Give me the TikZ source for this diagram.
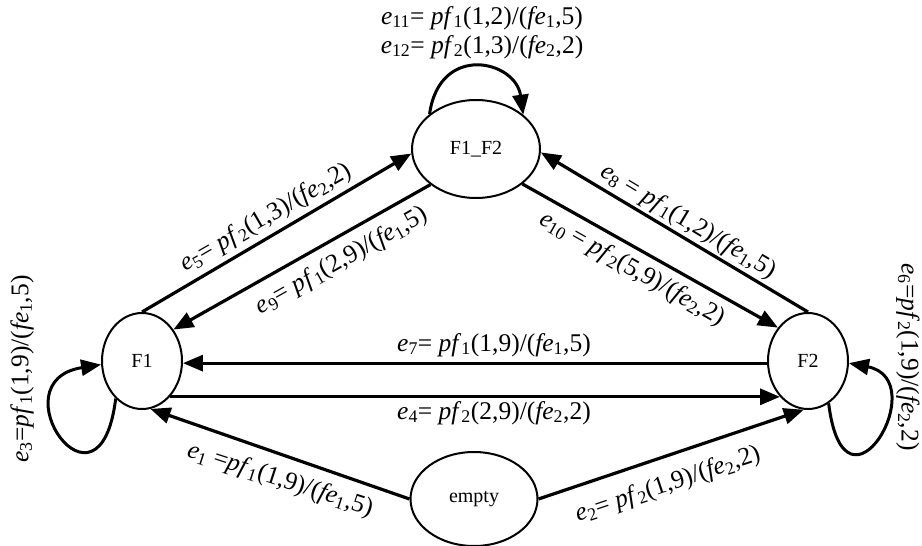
\documentclass[tikz,border=0pt]{standalone}
\usepackage{fontspec}
\setmainfont{Liberation Serif}
\usetikzlibrary{arrows.meta,shapes.geometric}
\newcommand{\sbs}[1]{\textsubscript{#1}}
\newcommand{\itx}[1]{\textit{#1}}
\begin{document}
\begin{tikzpicture}[x=1pt,y=-1pt,
  st/.style={ellipse,draw,line width=2pt,inner sep=0pt,font=\fontsize{20}{24}\selectfont},
  ed/.style={line width=3.2pt,-{Triangle[length=20pt,width=16pt]}},
  lp/.style={line width=3pt,-{Triangle[length=20pt,width=16pt]}},
  lbl/.style={font=\fontsize{25.5}{30}\selectfont,inner sep=0pt}]
\useasboundingbox (0,0) rectangle (922,546);
% states
\node[st,minimum width=128pt,minimum height=98pt] (F12) at (476,149) {F1\_F2};
\node[st,minimum width=80pt,minimum height=96pt] (F1) at (142,361) {F1};
\node[st,minimum width=80pt,minimum height=96pt] (F2) at (808,361) {F2};
\node[st,minimum width=127pt,minimum height=94pt] (E) at (474,499) {empty};
% edges
\draw[ed] (F1.90) -- (F12.184);
\draw[ed] (F12.218) -- (F1.45);
\draw[ed] (F2.90) -- (F12.357);
\draw[ed] (F12.323.5) -- (F2.132);
\draw[ed] (F2.183) -- (F1.-3);
\draw[ed] (F1.-52) -- (F2.232);
\draw[ed] (E.180) -- (F1.280);
\draw[ed] (E.0) -- (F2.265);
% loops
\draw[lp] (F1.235) .. controls +(263:133pt) and +(189:107pt) .. (F1.185);
\draw[lp] (F2.296) .. controls +(277:130pt) and +(349:87pt) .. (F2.357);
\draw[lp] (F12.143) .. controls +(82:72pt) and +(98:55pt) .. (F12.36);
% labels
\node[lbl] (l11) at (482,18) {\itx{e}\sbs{11}= \itx{pf}\sbs{1}(1,2)/(\itx{fe}\sbs{1},5)};
\node[lbl] (l12) at (482,47) {\itx{e}\sbs{12}= \itx{pf}\sbs{2}(1,3)/(\itx{fe}\sbs{2},2)};
\node[lbl,rotate=30] (l5) at (266,218) {\itx{e}\sbs{5}= \itx{pf}\sbs{2}(1,3)/(\itx{fe}\sbs{2},2)};
\node[lbl,rotate=29.5] (l9) at (342,261) {\itx{e}\sbs{9}= \itx{pf}\sbs{1}(2,9)/(\itx{fe}\sbs{1},5)};
\node[lbl,rotate=-31] (l8) at (688,222) {\itx{e}\sbs{8} = \itx{pf}\sbs{1}(1,2)/(\itx{fe}\sbs{1},5)};
\node[lbl,rotate=-29.5] (l10) at (632,269) {\itx{e}\sbs{10} = \itx{pf}\sbs{2}(5,9)/(\itx{fe}\sbs{2},2)};
\node[lbl] (l7) at (494,345) {\itx{e}\sbs{7}= \itx{pf}\sbs{1}(1,9)/(\itx{fe}\sbs{1},5)};
\node[lbl] (l4) at (494,413) {\itx{e}\sbs{4}= \itx{pf}\sbs{2}(2,9)/(\itx{fe}\sbs{2},2)};
\node[lbl,rotate=-18] (l1) at (280,480) {\itx{e}\sbs{1} =\itx{pf}\sbs{1}(1,9)/(\itx{fe}\sbs{1},5)};
\node[lbl,rotate=18.5] (l2) at (668,485) {\itx{e}\sbs{2}= \itx{pf}\sbs{2}(1,9)/(\itx{fe}\sbs{2},2)};
\node[lbl,rotate=90] (l3) at (22,369) {\itx{e}\sbs{3}=\itx{pf}\sbs{1}(1,9)/(\itx{fe}\sbs{1},5)};
\node[lbl,rotate=-90] (l6) at (908,357) {\itx{e}\sbs{6}=\itx{pf}\sbs{2}(1,9)/(\itx{fe}\sbs{2},2)};
\end{tikzpicture}
\end{document}
